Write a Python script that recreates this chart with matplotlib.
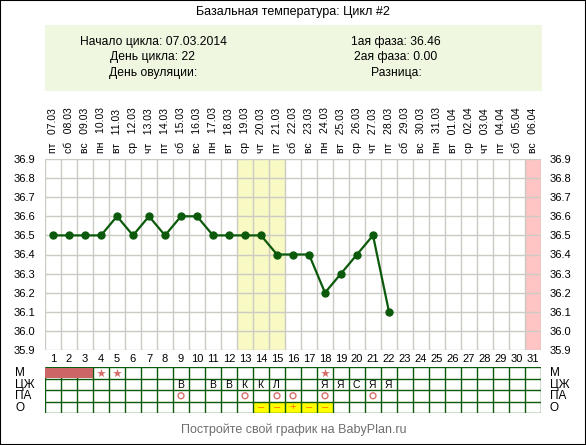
import matplotlib
matplotlib.use("Agg")
import matplotlib.pyplot as plt
from matplotlib.patches import Rectangle
from matplotlib.transforms import blended_transform_factory

plt.rcParams["font.family"] = ["Liberation Sans", "DejaVu Sans"]

# cycle data
days = list(range(1, 32))
temp_days = list(range(1, 23))
temps = [36.5, 36.5, 36.5, 36.5, 36.6, 36.5, 36.6, 36.5, 36.6, 36.6, 36.5,
         36.5, 36.5, 36.5, 36.4, 36.4, 36.4, 36.2, 36.3, 36.4, 36.5, 36.1]
dates = ["07.03", "08.03", "09.03", "10.03", "11.03", "12.03", "13.03", "14.03",
         "15.03", "16.03", "17.03", "18.03", "19.03", "20.03", "21.03", "22.03",
         "23.03", "24.03", "25.03", "26.03", "27.03", "28.03", "29.03", "30.03",
         "31.03", "01.04", "02.04", "03.04", "04.04", "05.04", "06.04"]
weekdays = ["пт", "сб", "вс", "пн", "вт", "ср", "чт"] * 4 + ["пт", "сб", "вс"]
temp_ticks = [35.9, 36.0, 36.1, 36.2, 36.3, 36.4, 36.5, 36.6, 36.7, 36.8, 36.9]
fertile_days = [13, 14, 15]
next_cycle_days = [31]

# table rows
row_names = ["М", "ЦЖ", "ПА", "О"]
mens_days = [1, 2, 3]
star_days = [4, 5, 18]
mucus_days = [9, 11, 12, 13, 14, 15, 18, 19, 20, 21, 22]
mucus_marks = ["В", "В", "В", "К", "К", "Л", "Я", "Я", "С", "Я", "Я"]
pa_days = [9, 13, 15, 16, 18, 21]
test_days = [14, 15, 16, 17, 18]
test_marks = ["–", "–", "+", "–", "–"]

title = "Базальная температура: Цикл #2"
info_left = ["Начало цикла: 07.03.2014", "День цикла: 22", "День овуляции:"]
info_right = ["1ая фаза: 36.46", "2ая фаза: 0.00", "Разница:"]
footer = "Постройте свой график на BabyPlan.ru"

W, H = 586, 445
fig = plt.figure(figsize=(W / 100, H / 100), dpi=100)
fig.patch.set_facecolor("white")


def fx(px):
    return px / W


def fy(py):
    return 1 - py / H


# header
fig.text(fx(293), fy(12), title, ha="center", va="center", fontsize=9)
box = fig.add_axes([fx(45), fy(91), fx(497), 66 / H])
box.set_facecolor("#eff7e0")
box.set_xticks([])
box.set_yticks([])
for s in box.spines.values():
    s.set_visible(False)
for i, (l, r) in enumerate(zip(info_left, info_right)):
    y = fy(41.5 + i * 15.5)
    fig.text(fx(153), y, l, ha="center", va="center", fontsize=8.7)
    fig.text(fx(396), y, r, ha="center", va="center", fontsize=8.7)

# temperature chart
ax = fig.add_axes([fx(45), fy(350), fx(496), 191 / H])
ax.bar(fertile_days, 1.0, bottom=35.9, width=1.0, color="#f9f9c4", zorder=0)
ax.bar(next_cycle_days, 1.0, bottom=35.9, width=1.0, color="#ffc4c4", zorder=0)
ax.plot(temp_days, temps, color="#0b5a0b", lw=1.6, marker="o", ms=5,
        zorder=3)
ax.set_xlim(0.5, 31.5)
ax.set_ylim(35.9, 36.9)
ax.set_xticks(days)
ax.set_xticklabels([str(d) for d in days], fontsize=8)
ax.set_xticks([d + 0.5 for d in range(0, 32)], minor=True)
ax.set_yticks(temp_ticks)
ax.set_yticklabels([f"{t:.1f}" for t in temp_ticks], fontsize=8)
ax.tick_params(axis="both", which="both", length=0)
ax.tick_params(axis="x", pad=3)
ax.tick_params(axis="y", pad=7)
ax.grid(True, which="minor", axis="x", color="#cbcbc4", lw=1)
ax.grid(True, which="major", axis="y", color="#cbcbc4", lw=1)
for s in ax.spines.values():
    s.set_visible(False)

top = ax.secondary_xaxis("top")
top.set_xticks(days)
top.set_xticklabels([f"{w}   {d}" for w, d in zip(weekdays, dates)],
                    rotation=90, fontsize=7.5)
top.tick_params(length=0, pad=4)
top.spines["top"].set_visible(False)

right = ax.secondary_yaxis("right")
right.set_yticks(temp_ticks)
right.set_yticklabels([f"{t:.1f}" for t in temp_ticks], fontsize=8)
right.tick_params(length=0, pad=6)
right.spines["right"].set_visible(False)

# table
tb = fig.add_axes([fx(45), fy(413), fx(496), 46 / H])
tb.set_xlim(0.5, 31.5)
tb.set_ylim(4, 0)
tb.bar(test_days, 1.0, bottom=3, width=1.0, color="#ffff00", zorder=1)
tb.vlines([d + 0.5 for d in range(0, 32)], 0, 4, color="#0b5a0b", lw=1,
          zorder=2)
tb.hlines(range(0, 5), 0.5, 31.5, color="#0b5a0b", lw=1, zorder=2)
tb.bar(mens_days, 0.9, bottom=0.05, width=1.0, color="#cc6666", zorder=2.5)
tb.scatter(star_days, [0.5] * len(star_days), marker="*", s=42,
           color="#d46a6a", zorder=3, linewidths=0)
for d, m in zip(mucus_days, mucus_marks):
    tb.text(d - 0.05, 1.55, m, ha="center", va="center", fontsize=7.5)
tb.scatter(pa_days, [2.5] * len(pa_days), marker="o", s=18,
           facecolors="none", edgecolors="#d87070", linewidths=1, zorder=3)
for d, m in zip(test_days, test_marks):
    tb.text(d, 3.5, m, ha="center", va="center", fontsize=8,
            color="#ff6a00")
tb.set_xticks([])
tb.set_yticks([])
for s in tb.spines.values():
    s.set_visible(False)

tr = blended_transform_factory(fig.transFigure, tb.transData)
for i, name in enumerate(row_names):
    tb.text(fx(15), i + 0.55, name, transform=tr, ha="left", va="center",
            fontsize=8.5)
    tb.text(fx(550), i + 0.55, name, transform=tr, ha="left", va="center",
            fontsize=8.5)

fig.text(fx(294), fy(430), footer, ha="center", va="center", fontsize=9,
         color="#6e6e6e")

fig.patches.append(Rectangle((0, 0), 1, 1, transform=fig.transFigure,
                             fill=False, edgecolor="black", lw=1.5))

fig.savefig("out.png", dpi=100)
